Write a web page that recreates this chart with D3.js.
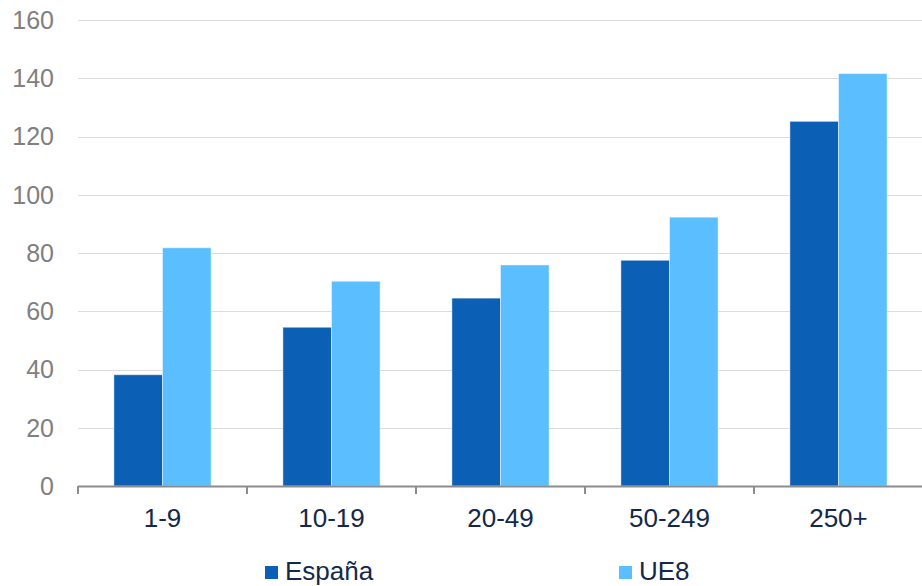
<!DOCTYPE html>
<html>
<head>
<meta charset="utf-8">
<script src="https://cdn.jsdelivr.net/npm/d3@7"></script>
<style>
  html, body { margin: 0; padding: 0; background: #fff; }
  svg { display: block; font-family: "Liberation Sans", Arial, sans-serif; }
</style>
</head>
<body>
<svg id="chart" width="922" height="586"></svg>
<script>
const categories = ["1-9", "10-19", "20-49", "50-249", "250+"];
const seriesNames = ["España", "UE8"];
const espana = [38.2, 54.5, 64.5, 77.5, 125.2];
const ue8 = [81.8, 70.3, 75.9, 92.3, 141.6];
const yTicks = [0, 20, 40, 60, 80, 100, 120, 140, 160];
const colors = ["#0b5fb4", "#5bbeff"];

const svg = d3.select("#chart");
const plotLeft = 78, plotRight = 923, plotTop = 20, plotBottom = 486;

const x = d3.scaleBand().domain(categories).range([plotLeft, plotRight]).padding(0);
const groupW = x.bandwidth() * 0.575;
const x1 = d3.scaleBand().domain(seriesNames).range([0, groupW]).padding(0);
const y = d3.scaleLinear().domain([0, 160]).range([plotBottom, plotTop]);

// gridlines
svg.append("g").selectAll("line").data(yTicks.filter(d => d > 0)).join("line")
  .attr("x1", plotLeft).attr("x2", 922)
  .attr("y1", d => Math.round(y(d)) + 0.5).attr("y2", d => Math.round(y(d)) + 0.5)
  .attr("stroke", "#dcdcdc").attr("stroke-width", 1);

// y labels
svg.append("g").selectAll("text").data(yTicks).join("text")
  .attr("x", 54).attr("y", d => y(d))
  .attr("dy", "0.35em")
  .attr("text-anchor", "end")
  .attr("fill", "#808080")
  .attr("font-size", 25)
  .text(d => d);

// bars
const rows = categories.map((c, i) => ({ cat: c, vals: [espana[i], ue8[i]] }));
const groups = svg.append("g").selectAll("g").data(rows).join("g")
  .attr("transform", d => `translate(${x(d.cat) + (x.bandwidth() - groupW) / 2},0)`);
groups.selectAll("rect").data(d => d.vals.map((v, j) => ({ s: seriesNames[j], v, j }))).join("rect")
  .attr("x", d => x1(d.s))
  .attr("width", x1.bandwidth())
  .attr("y", d => y(d.v))
  .attr("height", d => y(0) - y(d.v))
  .attr("fill", d => colors[d.j])
  .attr("stroke", "rgba(255,255,255,0.45)")
  .attr("stroke-width", 1);

// x axis line and boundary ticks
const axisG = svg.append("g");
axisG.append("line")
  .attr("x1", plotLeft).attr("x2", 922)
  .attr("y1", plotBottom + 0.5).attr("y2", plotBottom + 0.5)
  .attr("stroke", "#8c8c8c").attr("stroke-width", 2);
const bounds = categories.map(c => x(c)).concat([plotRight]);
axisG.selectAll("line.tick").data(bounds).join("line")
  .attr("class", "tick")
  .attr("x1", d => Math.round(d)).attr("x2", d => Math.round(d))
  .attr("y1", plotBottom).attr("y2", plotBottom + 8)
  .attr("stroke", "#8c8c8c").attr("stroke-width", 2);

// x labels
svg.append("g").selectAll("text").data(categories).join("text")
  .attr("x", d => x(d) + x.bandwidth() / 2)
  .attr("y", 527)
  .attr("text-anchor", "middle")
  .attr("fill", "#14284b")
  .attr("font-size", 26)
  .text(d => d);

// legend
const legendPos = [265, 619];
const leg = svg.append("g").selectAll("g").data(seriesNames).join("g")
  .attr("transform", (d, i) => `translate(${legendPos[i]},0)`);
leg.append("rect").attr("x", 0).attr("y", 566).attr("width", 13).attr("height", 13)
  .attr("fill", (d, i) => colors[i]);
leg.append("text").attr("x", 20).attr("y", 579.5)
  .attr("fill", "#14284b").attr("font-size", 26)
  .text(d => d);
</script>
</body>
</html>
